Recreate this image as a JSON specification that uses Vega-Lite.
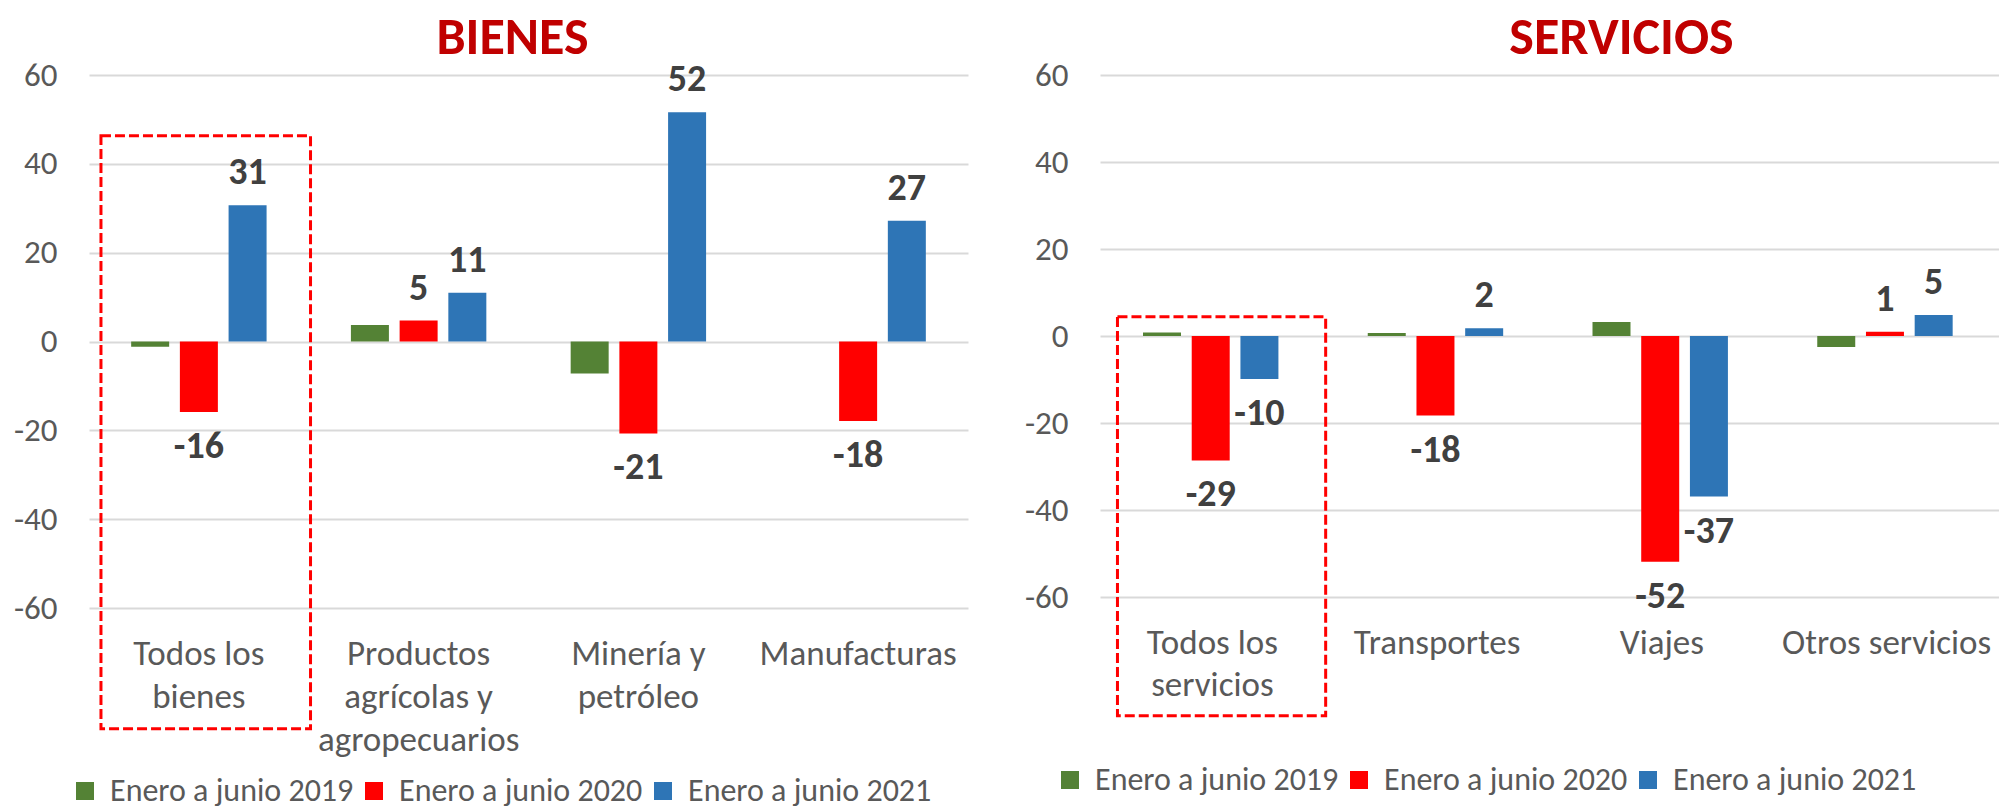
{
  "$schema": "https://vega.github.io/schema/vega-lite/v6.json",
  "background": "white",
  "padding": {"left": 13, "top": 12, "right": 0, "bottom": 6},
  "config": {
    "locale": {"number": {"decimal": ".", "thousands": ",", "grouping": [3], "currency": ["$", ""], "minus": "-"}},
    "font": "Carlito, Lato, sans-serif",
    "view": {"stroke": null}
  },
  "datasets": {
    "bienes": [
      {"cat": "Todos los bienes", "serie": "Enero a junio 2019", "value": -1.2},
      {"cat": "Todos los bienes", "serie": "Enero a junio 2020", "value": -15.9},
      {"cat": "Todos los bienes", "serie": "Enero a junio 2021", "value": 30.7},
      {"cat": "Productos agrícolas y agropecuarios", "serie": "Enero a junio 2019", "value": 3.7},
      {"cat": "Productos agrícolas y agropecuarios", "serie": "Enero a junio 2020", "value": 4.7},
      {"cat": "Productos agrícolas y agropecuarios", "serie": "Enero a junio 2021", "value": 11.0},
      {"cat": "Minería y petróleo", "serie": "Enero a junio 2019", "value": -7.2},
      {"cat": "Minería y petróleo", "serie": "Enero a junio 2020", "value": -20.7},
      {"cat": "Minería y petróleo", "serie": "Enero a junio 2021", "value": 51.6},
      {"cat": "Manufacturas", "serie": "Enero a junio 2019", "value": 0},
      {"cat": "Manufacturas", "serie": "Enero a junio 2020", "value": -17.9},
      {"cat": "Manufacturas", "serie": "Enero a junio 2021", "value": 27.2}
    ],
    "servicios": [
      {"cat": "Todos los servicios", "serie": "Enero a junio 2019", "value": 0.8},
      {"cat": "Todos los servicios", "serie": "Enero a junio 2020", "value": -28.6},
      {"cat": "Todos los servicios", "serie": "Enero a junio 2021", "value": -9.9},
      {"cat": "Transportes", "serie": "Enero a junio 2019", "value": 0.7},
      {"cat": "Transportes", "serie": "Enero a junio 2020", "value": -18.3},
      {"cat": "Transportes", "serie": "Enero a junio 2021", "value": 1.8},
      {"cat": "Viajes", "serie": "Enero a junio 2019", "value": 3.2},
      {"cat": "Viajes", "serie": "Enero a junio 2020", "value": -51.9},
      {"cat": "Viajes", "serie": "Enero a junio 2021", "value": -36.9},
      {"cat": "Otros servicios", "serie": "Enero a junio 2019", "value": -2.5},
      {"cat": "Otros servicios", "serie": "Enero a junio 2020", "value": 1.0},
      {"cat": "Otros servicios", "serie": "Enero a junio 2021", "value": 4.8}
    ]
  },
  "bounds": "flush",
  "spacing": 132,
  "resolve": {"legend": {"color": "independent"}},
  "hconcat": [
    {
      "width": 879,
      "height": 533,
      "title": {"text": "BIENES", "anchor": "middle", "frame": "group", "fontSize": 52, "fontWeight": "bold", "color": "#C00000", "dx": -16, "offset": -6},
      "layer": [
        {
          "data": {"name": "bienes"},
          "mark": {"type": "bar"},
          "encoding": {
            "x": {"field": "cat", "type": "nominal", "sort": ["Todos los bienes", "Productos agrícolas y agropecuarios", "Minería y petróleo", "Manufacturas"], "title": null,
              "scale": {"paddingInner": 0.335, "paddingOuter": 0.1675},
              "axis": {"orient": "bottom", "domain": false, "ticks": true, "tickSize": 0, "tickColor": "transparent", "grid": false, "labelAngle": 0, "labelFontSize": 35, "labelColor": "#595959", "labelPadding": 28, "labelLineHeight": 43, "labelLimit": 400, "labelBaseline": "top",
                "labelExpr": "datum.value == 'Todos los bienes' ? ['Todos los', 'bienes'] : datum.value == 'Productos agrícolas y agropecuarios' ? ['Productos', 'agrícolas y', 'agropecuarios'] : datum.value == 'Minería y petróleo' ? ['Minería y', 'petróleo'] : datum.value"}},
            "xOffset": {"field": "serie", "type": "nominal", "scale": {"paddingInner": 0.22, "paddingOuter": 0.11}},
            "y": {"field": "value", "type": "quantitative", "title": null,
              "scale": {"domain": [-60, 60], "nice": false},
              "axis": {"values": [-60, -40, -20, 0, 20, 40, 60], "grid": true, "gridColor": "#D9D9D9", "gridWidth": 2, "domain": false, "ticks": true, "tickSize": 0, "tickColor": "transparent", "labelFontSize": 33, "labelColor": "#595959", "labelPadding": 32}},
            "color": {"field": "serie", "type": "nominal",
              "scale": {"domain": ["Enero a junio 2019", "Enero a junio 2020", "Enero a junio 2021"], "range": ["#548235", "#FF0000", "#2E75B6"]},
              "legend": {"title": null, "orient": "none", "legendX": -20, "legendY": 700, "direction": "horizontal", "symbolType": "square", "symbolSize": 324, "symbolStrokeWidth": 0, "labelFontSize": 32, "labelColor": "#595959", "labelOffset": 9, "columnPadding": 4, "labelLimit": 400}}
          }
        },
        {
          "data": {"name": "bienes"},
          "transform": [{"filter": "datum.serie != 'Enero a junio 2019' && datum.value >= 0"}],
          "mark": {"type": "text", "dy": -21, "baseline": "alphabetic", "fontSize": 38, "fontWeight": "bold", "color": "#404040"},
          "encoding": {
            "x": {"field": "cat", "type": "nominal", "sort": ["Todos los bienes", "Productos agrícolas y agropecuarios", "Minería y petróleo", "Manufacturas"], "title": null},
            "xOffset": {"field": "serie", "type": "nominal"},
            "y": {"field": "value", "type": "quantitative", "title": null},
            "text": {"field": "value", "type": "quantitative", "format": ".0f"}
          }
        },
        {
          "data": {"name": "bienes"},
          "transform": [{"filter": "datum.serie != 'Enero a junio 2019' && datum.value < 0"}],
          "mark": {"type": "text", "dy": 46, "baseline": "alphabetic", "fontSize": 38, "fontWeight": "bold", "color": "#404040"},
          "encoding": {
            "x": {"field": "cat", "type": "nominal", "sort": ["Todos los bienes", "Productos agrícolas y agropecuarios", "Minería y petróleo", "Manufacturas"], "title": null},
            "xOffset": {"field": "serie", "type": "nominal"},
            "y": {"field": "value", "type": "quantitative", "title": null},
            "text": {"field": "value", "type": "quantitative", "format": ".0f"}
          }
        },
        {
          "data": {"values": [{"cat": "Todos los bienes", "arriba": 46.3, "abajo": -87.2}]},
          "mark": {"type": "rect", "fillOpacity": 0, "stroke": "#FF0000", "strokeWidth": 3, "strokeDash": [10, 4]},
          "encoding": {
            "x": {"field": "cat", "type": "nominal", "sort": ["Todos los bienes", "Productos agrícolas y agropecuarios", "Minería y petróleo", "Manufacturas"], "bandPosition": -0.17, "title": null},
            "x2": {"field": "cat", "bandPosition": 1.264},
            "y": {"field": "arriba", "type": "quantitative", "title": null},
            "y2": {"field": "abajo"}
          }
        }
      ]
    },
    {
      "width": 899,
      "height": 522,
      "title": {"text": "SERVICIOS", "anchor": "middle", "frame": "group", "fontSize": 52, "fontWeight": "bold", "color": "#C00000", "dx": 72, "offset": -6},
      "layer": [
        {
          "data": {"name": "servicios"},
          "mark": {"type": "bar"},
          "encoding": {
            "x": {"field": "cat", "type": "nominal", "sort": ["Todos los servicios", "Transportes", "Viajes", "Otros servicios"], "title": null,
              "scale": {"paddingInner": 0.335, "paddingOuter": 0.1675},
              "axis": {"orient": "bottom", "domain": false, "ticks": true, "tickSize": 0, "tickColor": "transparent", "grid": false, "labelAngle": 0, "labelFontSize": 35, "labelColor": "#595959", "labelPadding": 28, "labelLineHeight": 42, "labelLimit": 400, "labelBaseline": "top",
                "labelExpr": "datum.value == 'Todos los servicios' ? ['Todos los', 'servicios'] : datum.value"}},
            "xOffset": {"field": "serie", "type": "nominal", "scale": {"paddingInner": 0.237, "paddingOuter": 0.118}},
            "y": {"field": "value", "type": "quantitative", "title": null,
              "scale": {"domain": [-60, 60], "nice": false},
              "axis": {"values": [-60, -40, -20, 0, 20, 40, 60], "grid": true, "gridColor": "#D9D9D9", "gridWidth": 2, "domain": false, "ticks": true, "tickSize": 0, "tickColor": "transparent", "labelFontSize": 33, "labelColor": "#595959", "labelPadding": 32}},
            "color": {"field": "serie", "type": "nominal",
              "scale": {"domain": ["Enero a junio 2019", "Enero a junio 2020", "Enero a junio 2021"], "range": ["#548235", "#FF0000", "#2E75B6"]},
              "legend": {"title": null, "orient": "none", "legendX": -46, "legendY": 689, "direction": "horizontal", "symbolType": "square", "symbolSize": 324, "symbolStrokeWidth": 0, "labelFontSize": 32, "labelColor": "#595959", "labelOffset": 9, "columnPadding": 4, "labelLimit": 400}}
          }
        },
        {
          "data": {"name": "servicios"},
          "transform": [{"filter": "datum.serie != 'Enero a junio 2019' && datum.value >= 0"}],
          "mark": {"type": "text", "dy": -21, "baseline": "alphabetic", "fontSize": 38, "fontWeight": "bold", "color": "#404040"},
          "encoding": {
            "x": {"field": "cat", "type": "nominal", "sort": ["Todos los servicios", "Transportes", "Viajes", "Otros servicios"], "title": null},
            "xOffset": {"field": "serie", "type": "nominal"},
            "y": {"field": "value", "type": "quantitative", "title": null},
            "text": {"field": "value", "type": "quantitative", "format": ".0f"}
          }
        },
        {
          "data": {"name": "servicios"},
          "transform": [{"filter": "datum.serie != 'Enero a junio 2019' && datum.value < 0"}],
          "mark": {"type": "text", "dy": 46, "baseline": "alphabetic", "fontSize": 38, "fontWeight": "bold", "color": "#404040"},
          "encoding": {
            "x": {"field": "cat", "type": "nominal", "sort": ["Todos los servicios", "Transportes", "Viajes", "Otros servicios"], "title": null},
            "xOffset": {"field": "serie", "type": "nominal"},
            "y": {"field": "value", "type": "quantitative", "title": null},
            "text": {"field": "value", "type": "quantitative", "format": ".0f"}
          }
        },
        {
          "data": {"values": [{"cat": "Todos los servicios", "arriba": 4.4, "abajo": -87.3}]},
          "mark": {"type": "rect", "fillOpacity": 0, "stroke": "#FF0000", "strokeWidth": 3, "strokeDash": [10, 4]},
          "encoding": {
            "x": {"field": "cat", "type": "nominal", "sort": ["Todos los servicios", "Transportes", "Viajes", "Otros servicios"], "bandPosition": -0.135, "title": null},
            "x2": {"field": "cat", "bandPosition": 1.258},
            "y": {"field": "arriba", "type": "quantitative", "title": null},
            "y2": {"field": "abajo"}
          }
        }
      ]
    }
  ]
}
